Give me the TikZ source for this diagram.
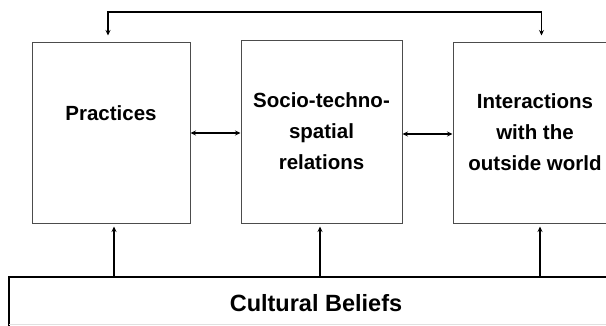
\documentclass[tikz,border=0pt]{standalone}
\usepackage{fontspec}
\setmainfont{Liberation Sans}
\usetikzlibrary{arrows.meta}
\begin{document}
\begin{tikzpicture}[x=1pt,y=-1pt,
  box/.style={draw=black!70,line width=1pt,fill=white,inner sep=0pt,
    align=center,font=\bfseries\fontsize{20.5}{31}\selectfont},
  base/.style={draw=black,line width=1.6pt,fill=white,inner sep=0pt,
    font=\bfseries\fontsize{23.5}{28}\selectfont},
  link/.style={line width=1.4pt,-{Stealth[length=5.5pt,width=5pt]}},
  both/.style={line width=1.4pt,{Stealth[length=5.5pt,width=5pt]}-{Stealth[length=5.5pt,width=5pt]}}]
  \clip (0,0) rectangle (606,325);
  \fill[white] (0,0) rectangle (606,325);

  % three columns
  \node[box,minimum width=158pt,minimum height=181pt] (prac) at (111,132.5) {Practices\\[8pt]};
  \node[box,minimum width=161pt,minimum height=183pt] (soc) at (321.5,131.5) {Socio-techno-\\spatial\\relations};
  \node[box,minimum width=164pt,minimum height=181pt] (inter) at (535,132.5) {Interactions\\with the\\outside world};

  % base layer, its lower edge in a light grey
  \node[base,minimum width=614pt,minimum height=52pt] (cult) at (316,303) {Cultural Beliefs};
  \draw[black!12,line width=1pt] (9,324) -- (606,324);

  % feedback loop across the top
  \coordinate (fbL) at (108,12);
  \coordinate (fbR) at (541.5,12);
  \draw[link,shorten >=6pt] (fbL) -- (fbL |- prac.north);
  \draw[link,shorten >=6pt] (fbR) -- (fbR |- inter.north);
  \draw[line width=1.4pt,line cap=rect] (fbL) -- (fbR);

  % links between neighbouring columns
  \coordinate (pe) at (prac.east |- 0,133);
  \coordinate (se) at (soc.east |- 0,134);
  \draw[both] (pe) -- (pe -| soc.west);
  \draw[both] (se) -- (se -| inter.west);

  % cultural beliefs feeding each column
  \draw[link,shorten >=3pt] ([xshift=-202pt]cult.north) -- ([xshift=-202pt]cult.north |- prac.south);
  \draw[link,shorten >=3pt] ([xshift=4pt]cult.north) -- ([xshift=4pt]cult.north |- soc.south);
  \draw[link,shorten >=3pt] ([xshift=224pt]cult.north) -- ([xshift=224pt]cult.north |- inter.south);
\end{tikzpicture}
\end{document}
